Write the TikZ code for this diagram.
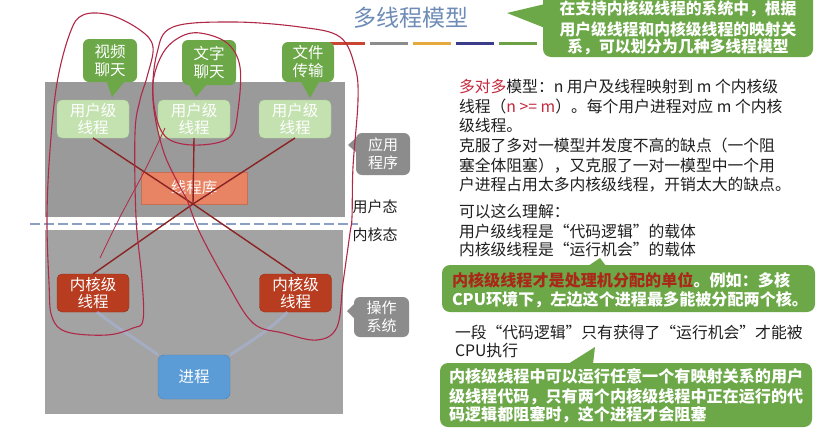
\documentclass[tikz,border=0pt]{standalone}
\usepackage{fontspec}
\setmainfont{Noto Sans CJK SC}
\definecolor{gA}{RGB}{154,154,154}
\definecolor{gB}{RGB}{163,163,163}
\definecolor{ugreen}{RGB}{196,226,176}
\definecolor{ugreenD}{RGB}{170,205,150}
\definecolor{cgreen}{RGB}{108,168,72}
\definecolor{cgreenD}{RGB}{92,150,60}
\definecolor{libc}{RGB}{232,132,100}
\definecolor{kred}{RGB}{184,60,32}
\definecolor{kredD}{RGB}{150,45,25}
\definecolor{procb}{RGB}{92,156,214}
\definecolor{procbD}{RGB}{70,130,190}
\definecolor{lgray}{RGB}{140,140,140}
\definecolor{linkred}{RGB}{140,35,35}
\definecolor{hand}{RGB}{176,40,72}
\definecolor{faintb}{RGB}{165,180,215}
\definecolor{titleb}{RGB}{110,140,182}
\definecolor{cred}{RGB}{196,40,60}
\definecolor{dred}{RGB}{170,40,25}
\definecolor{dashc}{RGB}{140,160,198}
\definecolor{bRed}{RGB}{200,70,50}
\definecolor{bGray}{RGB}{140,140,140}
\definecolor{bOr}{RGB}{230,170,60}
\definecolor{bNavy}{RGB}{60,60,140}
\definecolor{bGreen}{RGB}{110,160,70}
\begin{document}
\begin{tikzpicture}[x=1pt,y=-1pt,
  every node/.style={inner sep=0pt,outer sep=0pt},
  body/.style={font=\fontsize{15.8}{19}\selectfont,anchor=base west,text=black!88},
  cbody/.style={font=\bfseries\fontsize{15.8}{19}\selectfont,text=white},
  ubox/.style={draw=ugreenD,fill=ugreen,rounded corners=5pt,minimum width=72pt,minimum height=38pt,align=center,text=white,font=\fontsize{15.5}{17}\selectfont},
  kbox/.style={draw=kredD,fill=kred,rounded corners=5pt,minimum width=72pt,minimum height=38pt,align=center,text=white,font=\fontsize{15.5}{17}\selectfont},
  gcall/.style={fill=cgreen,rounded corners=6pt,align=center,text=white,font=\fontsize{15.5}{18}\selectfont},
  graycall/.style={fill=lgray,rounded corners=6pt,align=center,text=white,font=\fontsize{15}{18}\selectfont},
  link/.style={draw=linkred,line width=1.4pt},
  handdraw/.style={draw=hand,line width=1.1pt},
  faint/.style={draw=faintb,line width=3pt,opacity=0.6},
  sidelbl/.style={font=\fontsize{15}{18}\selectfont,text=black!88}
]
\useasboundingbox (0,0) rectangle (834,437);
\fill[white] (0,0) rectangle (834,437);

% title and bars
\node[font=\fontsize{23}{26}\selectfont,text=titleb] (title) at (411,18) {多线程模型};
\fill[bRed] (328,41.5) rectangle (365,44.5);
\fill[bGray] (370,41.5) rectangle (408,44.5);
\fill[bOr] (413,41.5) rectangle (451,44.5);
\fill[bNavy] (456,41.5) rectangle (494,44.5);
\fill[bGreen] (499,41.5) rectangle (537,44.5);

% top-right callout
\fill[cgreen,rounded corners=8pt] (543,-10) rectangle (813,57);
\fill[cgreen] (545,4) -- (507,13) -- (545,28) -- cycle;
\node[cbody,anchor=base] (t1) at (678,14.5) {在支持内核级线程的系统中，根据};
\node[cbody,anchor=base] (t2) at (678,35) {用户级线程和内核级线程的映射关};
\node[cbody,anchor=base] (t3) at (678,52.5) {系，可以划分为几种多线程模型};

% left diagram boxes
\fill[gA] (45,82) rectangle (345,217);
\fill[gB] (45,230) rectangle (343,414);
\draw[dashc,line width=2.2pt,dash pattern=on 10pt off 4pt] (30,224) -- (358,224);

% speech bubbles
\node[gcall,minimum width=54pt,minimum height=43pt] (c1) at (110,60.5) {视频\\聊天};
\fill[cgreen] (106,80) -- (112,97) -- (126,80) -- cycle;
\node[gcall,minimum width=54pt,minimum height=45pt] (c2) at (209,62.5) {文字\\聊天};
\fill[cgreen] (188,83) -- (196,97) -- (208,83) -- cycle;
\node[gcall,minimum width=52pt,minimum height=40pt] (c3) at (308,62) {文件\\传输};
\fill[cgreen] (300,80) -- (310,98) -- (320,80) -- cycle;

% user threads
\node[ubox] (u1) at (93,119) {用户级\\线程};
\node[ubox] (u2) at (194,119) {用户级\\线程};
\node[ubox] (u3) at (295,119) {用户级\\线程};

% thread library
\node[fill=libc,draw=libc!85!black,minimum width=106pt,minimum height=32pt,text=white!92!libc,font=\fontsize{15.5}{17}\selectfont] (lib) at (194,188) {线程库};

% kernel threads and process
\node[kbox] (k1) at (93,293) {内核级\\线程};
\node[kbox] (k2) at (295.5,293) {内核级\\线程};
\node[draw=procbD,fill=procb,rounded corners=6pt,minimum width=72pt,minimum height=44pt,text=white,font=\fontsize{15.5}{17}\selectfont] (proc) at (194,377) {进程};
\draw[faint] ([xshift=4pt]k1.south) .. controls (120,330) and (145,345) .. (proc.north west);
\draw[faint] ([xshift=-8pt]k2.south) .. controls (270,330) and (245,345) .. (proc.north east);

% mapping lines
\coordinate (hub) at (193,204);
\draw[link] (u1.south) -- (hub);
\draw[link] (u2.south) -- (hub);
\draw[link] (u3.south) -- (hub);
\draw[link] (hub) -- (k1.north);
\draw[link] (hub) -- (k2.north);

% side labels
\node[graycall,minimum width=54pt,minimum height=42pt] (app) at (383,154) {应用\\程序};
\fill[lgray] (357,137) -- (348,145) -- (357,153) -- cycle;
\node[sidelbl] (ustate) at (375,207) {用户态};
\node[sidelbl] (kstate) at (375,235) {内核态};
\node[graycall,minimum width=55pt,minimum height=40pt] (os) at (381.5,317) {操作\\系统};
\fill[lgray] (355,303) -- (347,311) -- (355,319) -- cycle;

% hand-drawn annotations
\draw[handdraw] plot[smooth cycle,tension=0.6] coordinates {(83,15) (110,15) (140,30) (153,47) (147,77) (140,100) (135,133) (136,217) (142,280) (143,320) (133,328) (107,335) (67,332) (52,317) (49,283) (47,217) (50,150) (57,83) (70,33)};
\draw[handdraw] plot[smooth cycle,tension=0.6] coordinates {(173,27) (233,22) (300,27) (340,37) (355,67) (358,100) (353,167) (352,217) (350,233) (343,283) (337,327) (317,340) (283,333) (253,323) (227,283) (200,233) (187,200) (180,187) (163,150) (153,100) (157,53)};
\draw[handdraw] plot[smooth cycle,tension=0.6] coordinates {(200,33) (227,43) (240,67) (238,110) (230,137) (200,145) (170,140) (157,120) (153,83) (163,53) (180,37)};
\draw[handdraw,line width=0.8pt] plot[smooth,tension=0.6] coordinates {(165,128) (145,170) (120,217) (100,258)};

% right text
\node[body] (r1) at (459,92) {{\color{cred}多对多}模型：n 用户及线程映射到 m 个内核级};
\node[body] (r2) at (459,112) {线程（{\color{cred}n >= m}）。每个用户进程对应 m 个内核};
\node[body] (r3) at (459,131) {级线程。};
\node[body] (r4) at (459,151) {克服了多对一模型并发度不高的缺点（一个阻};
\node[body] (r5) at (459,171) {塞全体阻塞），又克服了一对一模型中一个用};
\node[body] (r6) at (459,190) {户进程占用太多内核级线程，开销太大的缺点。};
\node[body] (r7) at (459,217) {可以这么理解：};
\node[body] (r8) at (459,237) {用户级线程是“代码逻辑”的载体};
\node[body] (r9) at (459,255.5) {内核级线程是“运行机会”的载体};

% callout 2
\fill[cgreen,rounded corners=8pt] (442,265) rectangle (815,312);
\fill[cgreen] (588,266) -- (600,258) -- (606,266) -- cycle;
\node[cbody,font=\bfseries\fontsize{16.1}{19}\selectfont,anchor=base west] (n1) at (452,286) {{\color{dred}内核级线程才是处理机分配的单位}。例如：多核};
\node[cbody,font=\bfseries\fontsize{16.1}{19}\selectfont,anchor=base west] (n2) at (452,305) {CPU环境下，左边这个进程最多能被分配两个核。};

\node[body] (r10) at (455,338) {一段“代码逻辑”只有获得了“运行机会”才能被};
\node[body] (r11) at (455,356) {CPU执行};

% callout 3
\fill[cgreen,rounded corners=8pt] (440,363) rectangle (812,427);
\fill[cgreen] (568,364) -- (595,347) -- (593,364) -- cycle;
\node[cbody,font=\bfseries\fontsize{16.1}{19}\selectfont,anchor=base west] (m1) at (449,382.5) {内核级线程中可以运行任意一个有映射关系的用户};
\node[cbody,font=\bfseries\fontsize{16.1}{19}\selectfont,anchor=base west] (m2) at (449,402.5) {级线程代码，只有两个内核级线程中正在运行的代};
\node[cbody,font=\bfseries\fontsize{16.1}{19}\selectfont,anchor=base west] (m3) at (449,420) {码逻辑都阻塞时，这个进程才会阻塞};
\end{tikzpicture}
\end{document}
